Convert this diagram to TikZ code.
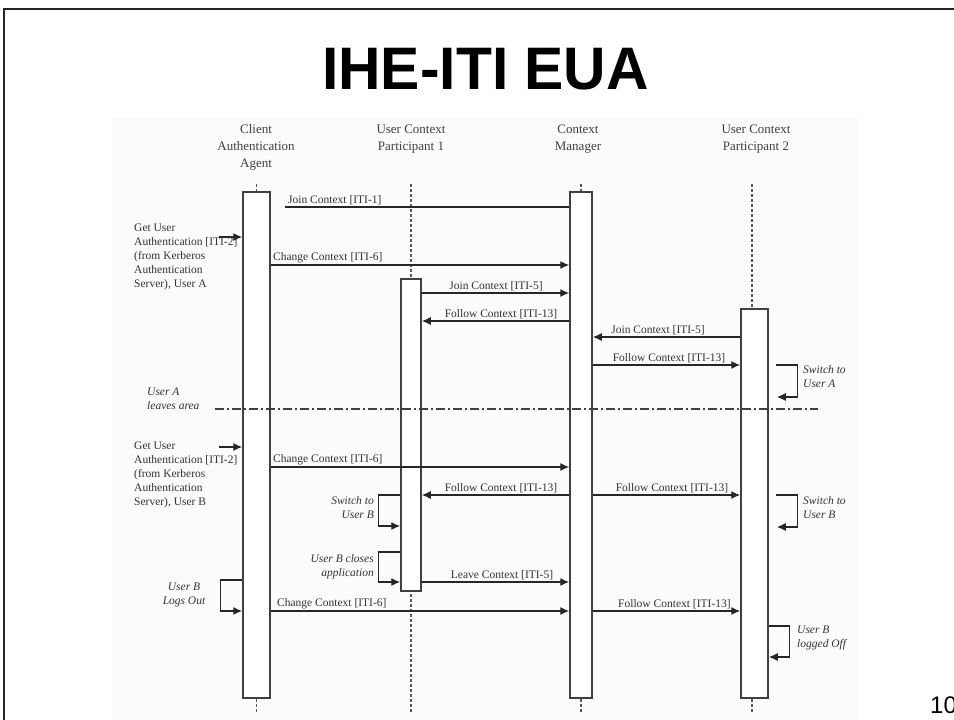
\documentclass[tikz,border=0pt]{standalone}
\usepackage{fontspec}
\setmainfont{Liberation Serif}
\newfontfamily\titlefont[FakeStretch=0.98]{Liberation Sans}
\newfontfamily\pagefont{Liberation Sans}
\usetikzlibrary{arrows.meta,calc}
\begin{document}
\begin{tikzpicture}[x=1pt,y=-1pt,
  actbox/.style={draw=black!75, line width=1.5pt, fill=white, inner sep=0pt},
  msg/.style={draw=black!85, line width=1.4pt, -{Latex[length=9pt,width=8pt]}},
  plainmsg/.style={draw=black!85, line width=1.4pt},
  life/.style={draw=black!65, line width=1.2pt, dash pattern=on 3pt off 2pt},
  sepline/.style={draw=black!75, line width=1.6pt, dash pattern=on 9pt off 3pt on 2pt off 3pt},
  hdr/.style={font=\fontsize{13}{17}\selectfont, align=center, text=black!75, inner sep=0pt},
  lbl/.style={font=\fontsize{11.5}{14}\selectfont, text=black!80, inner sep=1pt},
  note/.style={font=\fontsize{11.5}{14}\selectfont, text=black!80, align=left, inner sep=0pt},
  inote/.style={font=\itshape\fontsize{11.5}{14}\selectfont, text=black!80, inner sep=0pt}
]
\useasboundingbox (0,0) rectangle (954,720);
\clip (0,0) rectangle (954,720);
\fill[white] (0,0) rectangle (954,720);
% slide frame
\draw[line width=2pt, black!85] (4,722) -- (4,9) -- (956,9);
% title
\node[font=\titlefont\bfseries\fontsize{60}{60}\selectfont, inner sep=0pt] (title) at (485.5,69.5) {IHE-ITI EUA};
% diagram background
\fill[black!1.5] (113,118) rectangle (858,722);

% headers
\node[hdr] (hagent) at (256,147) {Client\\Authentication\\Agent};
\node[hdr] (hp1) at (411,139) {User Context\\Participant 1};
\node[hdr] (hcm) at (578,139) {Context\\Manager};
\node[hdr] (hp2) at (756,139) {User Context\\Participant 2};

% lifelines
\coordinate (agtop) at (256.5,184); \coordinate (agbot) at (256.5,713);
\coordinate (p1top) at (411,184);   \coordinate (p1bot) at (411,713);
\coordinate (cmtop) at (581,184);   \coordinate (cmbot) at (581,713);
\coordinate (p2top) at (752,184);   \coordinate (p2bot) at (752,713);
\draw[life] (agtop) -- (agbot);
\draw[life] (p1top) -- (p1bot);
\draw[life] (cmtop) -- (cmbot);
\draw[life] (p2top) -- (p2bot);

% activation boxes
\node[actbox, minimum width=27pt, minimum height=506pt] (agentbox) at (256.5,445) {};
\node[actbox, minimum width=20pt, minimum height=312pt] (p1box) at (411,435) {};
\node[actbox, minimum width=22pt, minimum height=506pt] (cmbox) at (581,445) {};
\node[actbox, minimum width=27pt, minimum height=389pt] (p2box) at (754.5,503.5) {};

% separator
\coordinate (sepl) at (215,409); \coordinate (sepr) at (818,409);
\draw[sepline] (sepl) -- (sepr);
\node[inote, align=left, anchor=north west] (leaves) at (147,388) {User A\\leaves area};

% messages
\coordinate (m1s) at (285,207);
\draw[plainmsg] (m1s) -- (cmbox.west |- m1s);
\node[lbl, anchor=south west] (l1) at (287,206) {Join Context [ITI-1]};

\coordinate (gaA) at (219,237);
\draw[msg] (gaA) -- (agentbox.west |- gaA);
\node[note, anchor=north west] (getA) at (134,224) {Get User\\Authentication [ITI-2]\\(from Kerberos\\Authentication\\Server), User A};

\draw[msg] (agentbox.east |- 0,265) -- (cmbox.west |- 0,265);
\node[lbl, anchor=south west] (l3) at (272,264) {Change Context [ITI-6]};

\draw[msg] (p1box.east |- 0,293) -- (cmbox.west |- 0,293);
\node[lbl, anchor=south] (l4) at (496,292) {Join Context [ITI-5]};

\draw[msg] (cmbox.west |- 0,321) -- (p1box.east |- 0,321);
\node[lbl, anchor=south] (l5) at (501,320) {Follow Context [ITI-13]};

\draw[msg] (p2box.west |- 0,337) -- (cmbox.east |- 0,337);
\node[lbl, anchor=south] (l6) at (658,336) {Join Context [ITI-5]};

\draw[msg] (cmbox.east |- 0,365) -- (p2box.west |- 0,365);
\node[lbl, anchor=south] (l7) at (669,364) {Follow Context [ITI-13]};

\draw[msg] ($(p2box.east |- 0,365)+(7,0)$) -- ++(22,0) -- ++(0,32) -- ++(-21,0);
\node[inote, align=left, anchor=north west] (swA) at (803,365) {Switch to\\User A};

\coordinate (gaB) at (219,447);
\draw[msg] (gaB) -- (agentbox.west |- gaB);
\node[note, anchor=north west] (getB) at (134,442) {Get User\\Authentication [ITI-2]\\(from Kerberos\\Authentication\\Server), User B};

\draw[msg] (agentbox.east |- 0,467) -- (cmbox.west |- 0,467);
\node[lbl, anchor=south west] (l9) at (272,466) {Change Context [ITI-6]};

\draw[msg] (cmbox.west |- 0,495) -- (p1box.east |- 0,495);
\node[lbl, anchor=south] (l10) at (501,494) {Follow Context [ITI-13]};

\draw[msg] (cmbox.east |- 0,495) -- (p2box.west |- 0,495);
\node[lbl, anchor=south] (l11) at (672,494) {Follow Context [ITI-13]};

\draw[msg] (p1box.west |- 0,495) -- ++(-22,0) -- ++(0,31) -- (p1box.west |- 0,526);
\node[inote, align=right, anchor=north east] (swB1) at (374,496) {Switch to\\User B};

\draw[msg] ($(p2box.east |- 0,495)+(7,0)$) -- ++(22,0) -- ++(0,32) -- ++(-21,0);
\node[inote, align=left, anchor=north west] (swB2) at (803,496) {Switch to\\User B};

\draw[msg] (p1box.west |- 0,552) -- ++(-22,0) -- ++(0,30) -- (p1box.west |- 0,582);
\node[inote, align=right, anchor=north east] (closes) at (374,554) {User B closes\\application};

\draw[msg] (p1box.east |- 0,582) -- (cmbox.west |- 0,582);
\node[lbl, anchor=south] (l12) at (502,581) {Leave Context [ITI-5]};

\draw[msg] (agentbox.west |- 0,580) -- ++(-22,0) -- ++(0,31) -- (agentbox.west |- 0,611);
\node[inote, align=center, anchor=north] (logs) at (184,583) {User B\\Logs Out};

\draw[msg] (agentbox.east |- 0,611) -- (cmbox.west |- 0,611);
\node[lbl, anchor=south west] (l13) at (276,610) {Change Context [ITI-6]};

\draw[msg] (cmbox.east |- 0,611) -- (p2box.west |- 0,611);
\node[lbl, anchor=south west] (l14) at (617,610) {Follow Context [ITI-13]};

\draw[msg] (p2box.east |- 0,626) -- ++(21,0) -- ++(0,31) -- (p2box.east |- 0,657);
\node[inote, align=left, anchor=north west] (loggedoff) at (797,626) {User B\\logged Off};

% page number (cut at the right edge, as in the reference)
\node[font=\pagefont\fontsize{24}{24}\selectfont, anchor=west, inner sep=0pt] (pg) at (930,705) {10};
\end{tikzpicture}
\end{document}
